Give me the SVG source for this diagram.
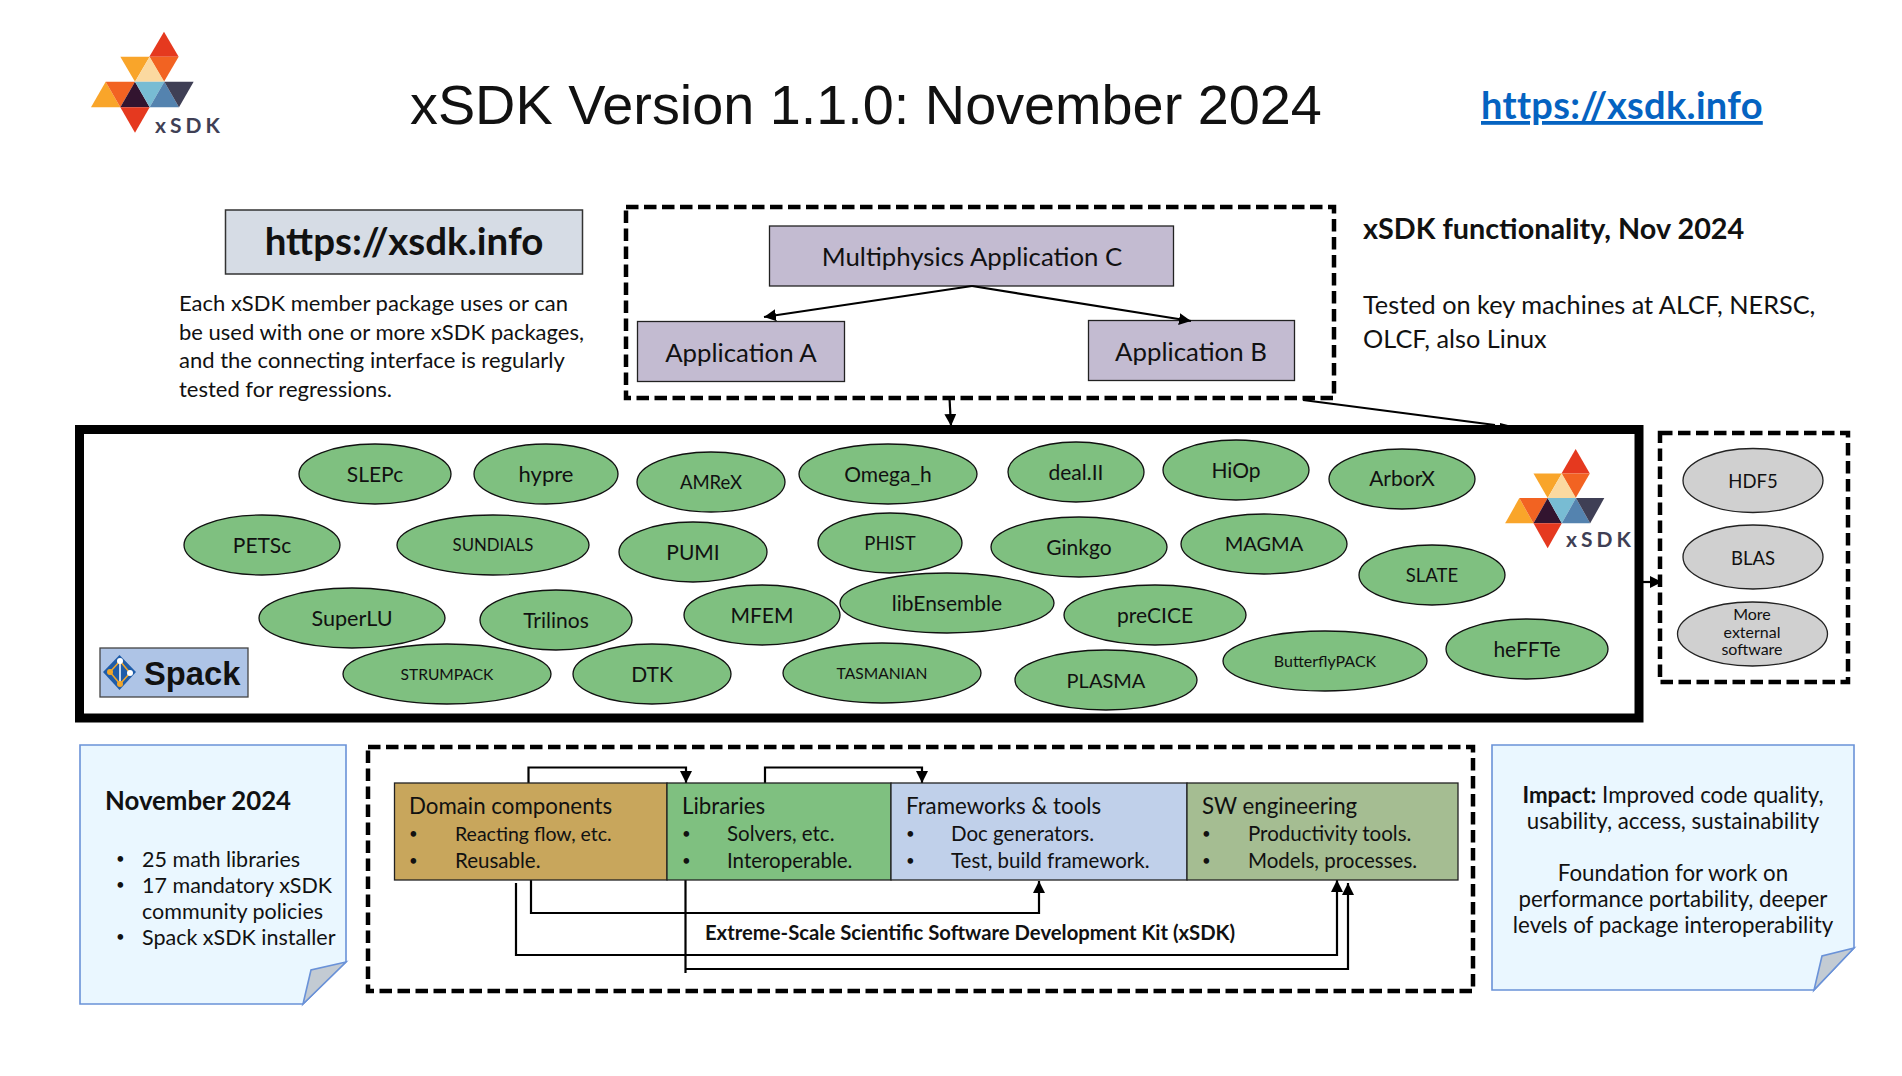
<svg xmlns="http://www.w3.org/2000/svg" width="1902" height="1076" viewBox="0 0 1902 1076">
<style>
text{font-family:"Lato","Open Sans",sans-serif;fill:#111}
.n{text-anchor:middle;font-size:21px}
.s{text-anchor:middle;font-size:16px}
.m{text-anchor:middle;font-size:18.5px}
.g{fill:#7fc080;stroke:#111;stroke-width:1.3}
.x{fill:#d0d0d0;stroke:#222;stroke-width:1.3}
.d{fill:none;stroke:#000;stroke-width:4.5;stroke-dasharray:12.5 5.5}
.b{stroke:#222;stroke-width:1.3}
.c{fill:none;stroke:#000;stroke-width:2.2}
.p{fill:#c3bbd1}
.l{font-size:25.8px}
.t{font-size:22px}
.r{font-size:22.3px}
.u{font-size:21.5px}
.i{font-size:20.5px}
.o{font-size:15px}
.note{fill:#eaf7ff;stroke:#6a92d8;stroke-width:1.6}
.fold{fill:#c3cbd3;stroke:#6a92d8;stroke-width:1.6}
.lg{font-weight:700;letter-spacing:4px;fill:#3f3f55}
</style>
<defs>
<marker id="a" markerUnits="userSpaceOnUse" markerWidth="14" markerHeight="14" refX="12" refY="6" orient="auto"><path d="M0 0L12 6L0 12z" fill="#000"/></marker>
<g id="logo">
<path fill="#e5391f" d="M312 65L268 140H356z"/>
<path fill="#f26322" d="M268 140H356L312 215z"/>
<path fill="#f9a52a" d="M181 140H269L225 215z"/>
<path fill="#fbd9a0" d="M269 140L225 215H313z"/>
<path fill="#f9a52a" d="M137 215L93 292H181z"/>
<path fill="#f26322" d="M137 215H225L181 292z"/>
<path fill="#32142f" d="M225 215L181 292H269z"/>
<path fill="#78bcd3" d="M225 215H313L269 292z"/>
<path fill="#5483af" d="M313 215L269 292H357z"/>
<path fill="#3f3f55" d="M313 215H401L357 292z"/>
<path fill="#e5391f" d="M181 292H269L225 368z"/>
</g>
</defs>
<rect width="1902" height="1076" fill="#fff"/>
<g id="logo-top"><use href="#logo" transform="translate(60 10) scale(.3333)"/><text class="lg" x="155" y="133" font-size="21">xSDK</text></g>
<text id="title" x="410" y="124" style="font-family:'Liberation Sans',Arial,sans-serif" font-size="55.800" fill="#111">xSDK Version 1.1.0: November 2024</text>
<text id="link" x="1481" y="119" font-size="38" font-weight="700" letter-spacing=".3" style="fill:#0563c1" text-decoration="underline">https://xsdk.info</text>
<g id="url-box"><rect x="225.500" y="210" width="357" height="64" fill="#d6dce5" stroke="#333" stroke-width="1.500"/><text x="404" y="255" text-anchor="middle" font-size="38.500" font-weight="700">https://xsdk.info</text></g>
<g id="intro" class="t"><text x="179" y="311">Each xSDK member package uses or can</text><text x="179" y="340">be used with one or more xSDK packages,</text><text x="179" y="368">and the connecting interface is regularly</text><text x="179" y="397">tested for regressions.</text></g>
<g id="functionality"><text x="1363" y="239" font-size="28.800" font-weight="700">xSDK functionality, Nov 2024</text><text x="1363" y="314" font-size="25.300">Tested on key machines at ALCF, NERSC,</text><text x="1363" y="348" font-size="25.300">OLCF, also Linux</text></g>
<rect id="apps-frame" class="d" x="626" y="207" width="708" height="191"/>
<g id="app-c"><rect class="p b" x="769.500" y="226" width="404" height="60"/><text class="l" x="972" y="266" text-anchor="middle">Multiphysics Application C</text></g>
<g id="app-a"><rect class="p b" x="637.500" y="321.500" width="207" height="60"/><text class="l" x="741" y="362" text-anchor="middle">Application A</text></g>
<g id="app-b"><rect class="p b" x="1088.500" y="320.500" width="206" height="60"/><text class="l" x="1191" y="361" text-anchor="middle">Application B</text></g>
<rect id="xsdk-frame" x="79.500" y="429.500" width="1559.500" height="288.500" fill="#fff" stroke="#000" stroke-width="9"/>
<g id="connectors">
<path class="c" marker-end="url(#a)" d="M972 286L764 317"/>
<path class="c" marker-end="url(#a)" d="M972 286L1191 321"/>
<path class="c" marker-end="url(#a)" d="M949.500 398L951 426"/>
<path class="c" d="M1303 400L1495 425"/>
<path fill="#000" d="M1500 423L1512 426H1500z"/>
<path class="c" marker-end="url(#a)" d="M1643 582H1662"/>
<path class="c" marker-end="url(#a)" d="M528.500 783V767.500H686V783"/>
<path class="c" marker-end="url(#a)" d="M765 783V767.500H922V783"/>
<path class="c" marker-end="url(#a)" d="M531 880V913H1039V881"/>
<path class="c" marker-end="url(#a)" d="M516 883V955H1337V880"/>
<path class="c" marker-end="url(#a)" d="M685.500 880V973M685.500 969H1348V883"/>
</g>
<g id="spack"><rect x="100" y="648" width="148" height="49" fill="#aec4e6" stroke="#444" stroke-width="1.300"/><path d="M119.500 655L136 672L119.500 690L103 672z" fill="#1f5ca8"/><path d="M110 672L120 661L130 673L120 684z" fill="none" stroke="#f0a52a" stroke-width="1.500"/><path d="M120 661V684" stroke="#fff" stroke-width="1.500"/><circle cx="120" cy="661" r="3" fill="#fff"/><circle cx="130" cy="673" r="3" fill="#fff"/><circle cx="110" cy="672" r="3" fill="#f0a52a"/><circle cx="120" cy="684" r="3" fill="#f0a52a"/><text x="144" y="685" style="font-family:'Liberation Sans',Arial,sans-serif" font-size="32.700" font-weight="700">Spack</text></g>
<g id="logo-inner"><use href="#logo" transform="translate(1475.200 427.800) scale(.322 .327)"/><text class="lg" x="1566" y="547" font-size="21">xSDK</text></g>
<g id="SLEPc"><ellipse class="g" cx="375" cy="474" rx="76" ry="30"/><text class="n" x="375" y="482">SLEPc</text></g>
<g id="hypre"><ellipse class="g" cx="546" cy="474" rx="72" ry="30"/><text class="n" x="546" y="482" style="font-size:22px">hypre</text></g>
<g id="AMReX"><ellipse class="g" cx="711" cy="482" rx="74" ry="30"/><text class="m" x="711" y="489">AMReX</text></g>
<g id="Omega_h"><ellipse class="g" cx="888" cy="474" rx="89" ry="30"/><text class="n" x="888" y="482">Omega_h</text></g>
<g id="dealII"><ellipse class="g" cx="1076" cy="472" rx="68" ry="30"/><text class="n" x="1076" y="480">deal.II</text></g>
<g id="HiOp"><ellipse class="g" cx="1236" cy="470" rx="73" ry="30"/><text class="n" x="1236" y="478">HiOp</text></g>
<g id="ArborX"><ellipse class="g" cx="1402" cy="479" rx="73" ry="30"/><text class="n" x="1402" y="486">ArborX</text></g>
<g id="PETSc"><ellipse class="g" cx="262" cy="545" rx="78" ry="30"/><text class="n" x="262" y="553">PETSc</text></g>
<g id="SUNDIALS"><ellipse class="g" cx="493" cy="545" rx="96" ry="30"/><text class="s" x="493" y="551" style="font-size:16.800px">SUNDIALS</text></g>
<g id="PUMI"><ellipse class="g" cx="693" cy="552" rx="74" ry="30"/><text class="n" x="693" y="560">PUMI</text></g>
<g id="PHIST"><ellipse class="g" cx="890" cy="543" rx="72" ry="30"/><text class="m" x="890" y="550">PHIST</text></g>
<g id="Ginkgo"><ellipse class="g" cx="1079" cy="547" rx="88" ry="30"/><text class="n" x="1079" y="555">Ginkgo</text></g>
<g id="MAGMA"><ellipse class="g" cx="1264" cy="544" rx="83" ry="30"/><text class="n" x="1264" y="551" style="font-size:20px">MAGMA</text></g>
<g id="SLATE"><ellipse class="g" cx="1432" cy="575" rx="73" ry="30"/><text class="m" x="1432" y="582">SLATE</text></g>
<g id="SuperLU"><ellipse class="g" cx="352" cy="618" rx="93" ry="30"/><text class="n" x="352" y="626" style="font-size:21.600px">SuperLU</text></g>
<g id="Trilinos"><ellipse class="g" cx="556" cy="620" rx="76" ry="30"/><text class="n" x="556" y="628">Trilinos</text></g>
<g id="MFEM"><ellipse class="g" cx="762" cy="615" rx="78" ry="30"/><text class="n" x="762" y="623">MFEM</text></g>
<g id="libEnsemble"><ellipse class="g" cx="947" cy="603" rx="107" ry="30"/><text class="n" x="947" y="611">libEnsemble</text></g>
<g id="preCICE"><ellipse class="g" cx="1155" cy="615" rx="91" ry="30"/><text class="n" x="1155" y="623">preCICE</text></g>
<g id="STRUMPACK"><ellipse class="g" cx="447" cy="674" rx="104" ry="30"/><text class="s" x="447" y="680" style="font-size:15.600px">STRUMPACK</text></g>
<g id="DTK"><ellipse class="g" cx="652" cy="674" rx="79" ry="30"/><text class="n" x="652" y="682">DTK</text></g>
<g id="TASMANIAN"><ellipse class="g" cx="882" cy="673" rx="99" ry="30"/><text class="s" x="882" y="679" style="font-size:15.600px">TASMANIAN</text></g>
<g id="PLASMA"><ellipse class="g" cx="1106" cy="680" rx="91" ry="30"/><text class="n" x="1106" y="688" style="font-size:20px">PLASMA</text></g>
<g id="ButterflyPACK"><ellipse class="g" cx="1325" cy="661" rx="102" ry="30"/><text class="s" x="1325" y="667">ButterflyPACK</text></g>
<g id="heFFTe"><ellipse class="g" cx="1527" cy="649" rx="81" ry="30"/><text class="n" x="1527" y="657">heFFTe</text></g>
<rect id="external-frame" class="d" x="1660" y="433" width="188" height="249"/>
<g id="HDF5"><ellipse class="x" cx="1753" cy="480.500" rx="70" ry="32"/><text class="m" x="1753" y="488">HDF5</text></g>
<g id="BLAS"><ellipse class="x" cx="1753" cy="557" rx="70" ry="32"/><text class="m" x="1753" y="565">BLAS</text></g>
<g id="more-external"><ellipse class="x" cx="1752.500" cy="634" rx="75" ry="32"/><text class="s" x="1752" y="620">More</text><text class="s" x="1752" y="638">external</text><text class="s" x="1752" y="655">software</text></g>
<g id="november"><path class="note" d="M80 745H346V962L303 1004H80z"/><path class="fold" d="M346 962L311 970L303 1004z"/><text x="105" y="810" font-size="25.800" font-weight="700">November 2024</text><g class="u"><text class="o" x="116" y="864">•</text><text x="142" y="867">25 math libraries</text><text class="o" x="116" y="890">•</text><text x="142" y="893">17 mandatory xSDK</text><text x="142" y="919">community policies</text><text class="o" x="116" y="942">•</text><text x="142" y="945">Spack xSDK installer</text></g></g>
<rect id="layers-frame" class="d" x="368" y="747" width="1105" height="244"/>
<g id="domain"><rect class="b" x="394.500" y="783" width="272.500" height="97" fill="#c8a65c"/><text class="r" x="409" y="814">Domain components</text><g class="i"><text class="o" x="409" y="839">•</text><text x="455" y="841" font-size="19.500" style="font-size:19.500px">Reacting flow, etc.</text><text class="o" x="409" y="866">•</text><text x="455" y="868">Reusable.</text></g></g>
<g id="libraries"><rect class="b" x="667" y="783" width="224" height="97" fill="#7fc080"/><text class="r" x="682" y="814">Libraries</text><g class="i"><text class="o" x="682" y="839">•</text><text x="727" y="841">Solvers, etc.</text><text class="o" x="682" y="866">•</text><text x="727" y="868">Interoperable.</text></g></g>
<g id="frameworks"><rect class="b" x="891" y="783" width="296" height="97" fill="#c0d0ea"/><text class="r" x="906" y="814">Frameworks &amp; tools</text><g class="i"><text class="o" x="906" y="839">•</text><text x="951" y="841">Doc generators.</text><text class="o" x="906" y="866">•</text><text x="951" y="868">Test, build framework.</text></g></g>
<g id="sw"><rect class="b" x="1187" y="783" width="271" height="97" fill="#a5bd92"/><text class="r" x="1202" y="814">SW engineering</text><g class="i"><text class="o" x="1202" y="839">•</text><text x="1248" y="841">Productivity tools.</text><text class="o" x="1202" y="866">•</text><text x="1248" y="868">Models, processes.</text></g></g>
<text id="xsdk-label" x="970" y="940" text-anchor="middle" font-size="20.300" font-weight="700">Extreme-Scale Scientific Software Development Kit (xSDK)</text>
<g id="impact"><path class="note" d="M1492 745H1854V948L1814 990H1492z"/><path class="fold" d="M1854 948L1822 956L1814 990z"/><g class="r" text-anchor="middle"><text x="1673" y="803"><tspan font-weight="700">Impact:</tspan> Improved code quality,</text><text x="1673" y="829">usability, access, sustainability</text><text x="1673" y="881">Foundation for work on</text><text x="1673" y="907">performance portability, deeper</text><text x="1673" y="933">levels of package interoperability</text></g></g>
</svg>
